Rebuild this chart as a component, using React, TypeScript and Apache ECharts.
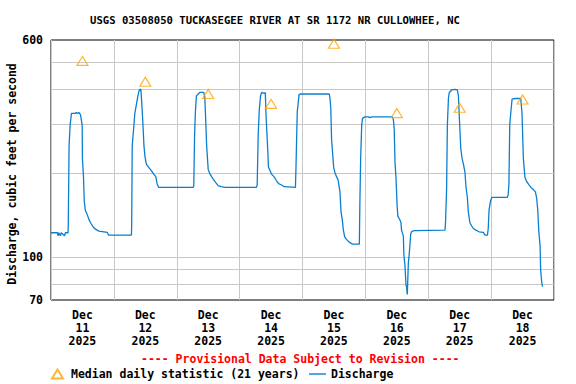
import React, { useEffect, useRef } from "react";
import * as echarts from "echarts";

const titleText = "USGS 03508050 TUCKASEGEE RIVER AT SR 1172 NR CULLOWHEE, NC";
const provisionalText = "---- Provisional Data Subject to Revision ----";
const yAxisName = "Discharge, cubic feet per second";

// Day labels placed at noon of each day (hours since Dec 11 00:00)
const dayLabels = ["Dec\n11\n2025", "Dec\n12\n2025", "Dec\n13\n2025", "Dec\n14\n2025", "Dec\n15\n2025", "Dec\n16\n2025", "Dec\n17\n2025", "Dec\n18\n2025"];
const dayLabelHours = [12, 36, 60, 84, 108, 132, 156, 180];

// Y tick labels and gridlines (cfs, log scale)
const yLabelValues = [70, 100, 600];
const yGridValues = [80, 90, 100, 200, 300, 400, 500];

// Median daily statistic (21 years), at noon each day
const medianHours = [12, 36, 60, 84, 108, 132, 156, 180];
const medianValues = [505, 425, 384, 354, 582, 328, 343, 367];

// Discharge: [hours since Dec 11 00:00, cfs]
const dischargePoints: [number, number][] = [
  [0, 122], [2.5, 122], [2.7, 119], [3.0, 122], [3.6, 119], [3.9, 122], [5.2, 119], [5.5, 122],
  [6.5, 122], [6.6, 131], [6.9, 250], [7.3, 297], [7.8, 327], [9.4, 327], [9.5, 330], [10.2, 327],
  [10.6, 330], [11.0, 327], [11.3, 322], [11.9, 297], [12.0, 224], [12.4, 194], [12.7, 158],
  [13.1, 147], [13.8, 142], [14.5, 136], [15.2, 132], [16.1, 128], [17.1, 125.4], [18.3, 123.7],
  [21.5, 122.4], [21.9, 119.7], [30.7, 119.7], [30.8, 130.7], [31.0, 250], [31.7, 301], [32.0, 327],
  [32.7, 357], [33.1, 375], [33.5, 391], [33.9, 399], [34.3, 399], [34.5, 375], [35.0, 311],
  [35.5, 249], [35.9, 228], [36.4, 215], [37.3, 209.5], [38.3, 204], [39.2, 198], [40.0, 194],
  [40.5, 183], [41.1, 177.5], [54.3, 177.5], [54.5, 180], [54.8, 270], [55.1, 329], [55.5, 378],
  [56.8, 389], [58.3, 389], [58.7, 375], [59.0, 318], [59.4, 252], [60.0, 206], [60.6, 199],
  [61.3, 194], [61.9, 190], [62.9, 184.5], [63.8, 180], [64.8, 178.5], [66.6, 177.5], [78.4, 177.5],
  [78.7, 181], [79.1, 276], [79.5, 336.5], [80.0, 379], [80.4, 389], [81.4, 386], [81.8, 389],
  [82.1, 318], [82.7, 246], [83.0, 210], [83.5, 205], [84.2, 198], [85.1, 194], [86.1, 187.5],
  [86.9, 183], [88.0, 181], [89.0, 178.5], [93.3, 177.5], [93.5, 207.5], [94.0, 331.7], [94.7, 383],
  [95.3, 384], [106.2, 384], [106.5, 370], [106.8, 341], [107.1, 264], [107.5, 235], [107.9, 209.5],
  [108.4, 200.4], [109.0, 194], [109.6, 188.6], [110.3, 171], [110.7, 145], [111.2, 135.5],
  [111.6, 124.7], [112.1, 118], [112.8, 115.5], [113.7, 113.2], [115.1, 111], [117.7, 111],
  [117.9, 155.6], [118.2, 225.6], [118.6, 297], [118.9, 314], [119.8, 318], [121.1, 318],
  [121.7, 316], [122.4, 318], [130.3, 318], [130.7, 310], [131.0, 289], [131.3, 219], [131.7, 191.4],
  [132.1, 153.4], [132.4, 140], [133.2, 135.5], [133.6, 132.5], [133.8, 124.7], [134.5, 118.7],
  [134.7, 101.5], [135.1, 93.4], [135.5, 79.2], [135.7, 78], [136.0, 73.3], [136.1, 78], [136.4, 95],
  [136.8, 104], [137.3, 120.7], [137.7, 123.3], [138.7, 124.2], [150.4, 124.7], [150.6, 133.6],
  [151.0, 174.6], [151.3, 297], [151.7, 370], [152.0, 388], [152.9, 397], [154.2, 399], [155.1, 397],
  [155.5, 380], [155.9, 311], [156.4, 246], [156.9, 225.6], [157.4, 215.5], [158.0, 201.6],
  [158.4, 178.5], [158.9, 164.3], [159.3, 145], [159.9, 132.5], [160.6, 129], [161.2, 126.4],
  [162.2, 124.7], [163.4, 123], [165.0, 122.4], [165.7, 119.7], [166.6, 119.7], [166.9, 126.4],
  [167.2, 147], [167.8, 159], [168.3, 163.5], [174.2, 163.5], [174.5, 166.6], [174.8, 183],
  [175.1, 297], [175.6, 336.5], [176.0, 368], [177.1, 370], [179.3, 370], [179.8, 327], [180.3, 225.6],
  [180.9, 193], [181.6, 186], [182.4, 181.5], [183.2, 177.5], [184.1, 174.6], [184.9, 171],
  [185.4, 162], [185.8, 147], [186.2, 123.3], [186.7, 109.3], [186.9, 89.7], [187.3, 81.4], [187.6, 78.1],
];

const FONT = "'DejaVu Sans Mono', 'Liberation Mono', monospace";
const lg = (v: number) => Math.log10(v);

export default function App() {
  const ref = useRef<HTMLDivElement>(null);
  useEffect(() => {
    if (!ref.current) return;
    const chart = echarts.init(ref.current, null, { renderer: "svg" });
    const textBase = { fontFamily: FONT, fontWeight: "bold" as const, fontSize: 11.5, color: "#000" };
    chart.setOption({
      animation: false,
      backgroundColor: "#fff",
      title: [
        {
          text: titleText,
          left: 90,
          top: 14,
          padding: 0,
          textStyle: { ...textBase, fontSize: 10.6 },
        },
        {
          text: provisionalText,
          left: 141,
          top: 353,
          padding: 0,
          textStyle: { ...textBase, color: "#ff0000" },
        },
      ],
      legend: [
        {
          left: 51,
          top: 368,
          itemWidth: 11,
          itemHeight: 9,
          padding: 0,
          data: ["Median daily statistic (21 years)"],
          textStyle: { ...textBase, padding: [0, 0, 0, 3] },
        },
        {
          left: 309,
          top: 368,
          itemWidth: 17,
          itemHeight: 9,
          padding: 0,
          data: [{ name: "Discharge", icon: "path://M0,4.3 L17,4.3 L17,5.7 L0,5.7 Z" }],
          textStyle: { ...textBase },
        },
      ],
      grid: {
        left: 51,
        right: 22,
        top: 40,
        bottom: 84,
        show: true,
        borderColor: "#000",
        borderWidth: 1,
        backgroundColor: "transparent",
        containLabel: false,
        outerBoundsMode: "none",
      },
      xAxis: {
        type: "value",
        min: 0,
        max: 192,
        interval: 24,
        axisLine: { show: false },
        axisTick: { show: false },
        splitLine: { show: true, lineStyle: { color: "#c8c8c8", width: 1 } },
        axisLabel: {
          customValues: dayLabelHours,
          formatter: (v: number) => {
            const i = dayLabelHours.indexOf(Math.round(v));
            return i >= 0 ? dayLabels[i] : "";
          },
          ...textBase,
          lineHeight: 13,
          margin: 8,
        },
      },
      yAxis: {
        type: "value",
        min: lg(70),
        max: lg(600),
        name: yAxisName,
        nameLocation: "middle",
        nameRotate: 90,
        nameGap: 33,
        nameMoveOverlap: false,
        nameTextStyle: { ...textBase, padding: [0, 8, 0, 0] },
        axisLine: { show: false },
        axisTick: { show: false, customValues: yGridValues.map(lg) },
        splitLine: { show: true, lineStyle: { color: "#c8c8c8", width: 1 } },
        axisLabel: {
          customValues: yLabelValues.map(lg),
          formatter: (v: number) => String(Math.round(Math.pow(10, v))),
          ...textBase,
          margin: 8,
        },
      },
      series: [
        {
          name: "Median daily statistic (21 years)",
          type: "scatter",
          symbol: "triangle",
          symbolSize: [11, 9],
          itemStyle: { color: "rgba(255,255,255,0)", borderColor: "#ffa500", borderWidth: 1.2 },
          data: medianHours.map((h, i) => [h, lg(medianValues[i])]),
          z: 3,
        },
        {
          name: "Discharge",
          type: "line",
          symbol: "none",
          showSymbol: false,
          lineStyle: { color: "#0a7fd0", width: 1.3 },
          itemStyle: { color: "#0a7fd0" },
          data: dischargePoints.map(([h, v]) => [h, lg(v)]),
          z: 2,
        },
      ],
    });
    return () => chart.dispose();
  }, []);
  return (
    <div
      ref={ref}
      style={{ position: "fixed", left: 0, top: 0, width: 576, height: 384 }}
    />
  );
}
